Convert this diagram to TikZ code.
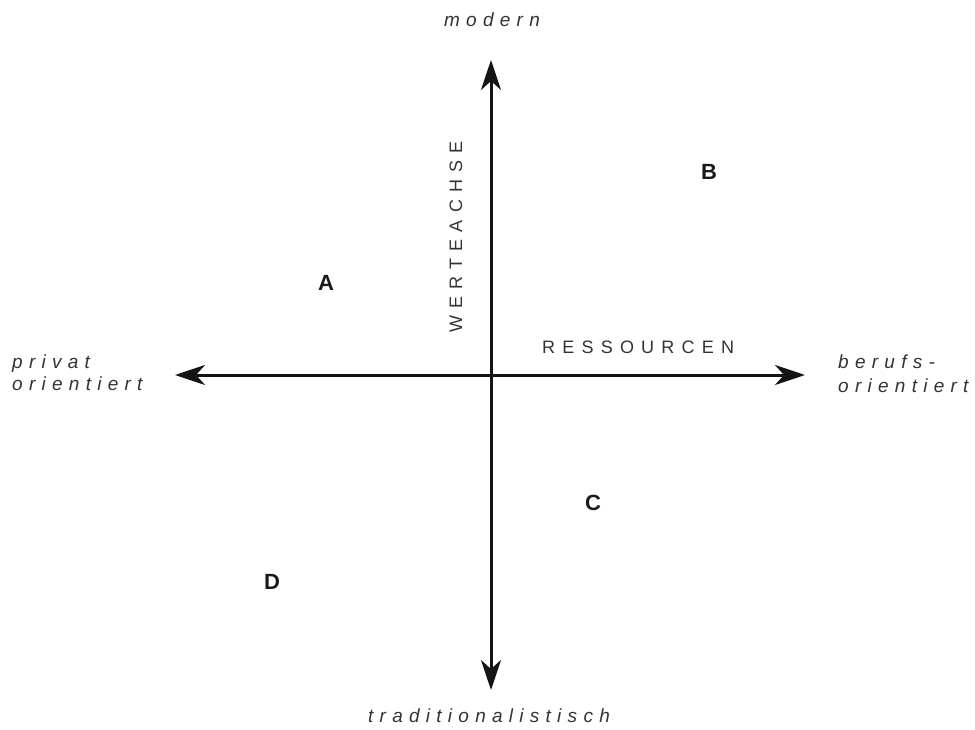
\documentclass[tikz,border=0pt]{standalone}
\usepackage{fontspec}
\setmainfont{Liberation Sans}
\newfontfamily\spacedit[LetterSpace=33]{Liberation Sans}
\newfontfamily\spacedcaps[LetterSpace=40]{Liberation Sans}
\usetikzlibrary{arrows.meta}
\tikzset{
  axisline/.style={line width=3pt, draw=black!92,
    {Stealth[length=30pt,width=20pt,inset=9pt]}-{Stealth[length=30pt,width=20pt,inset=9pt]}},
  pole/.style={text=black!80, font=\spacedit\itshape\fontsize{19}{23}\selectfont, inner sep=0pt},
  axlabel/.style={text=black!80, font=\spacedcaps\fontsize{18}{22}\selectfont, inner sep=0pt},
  quad/.style={text=black!90, font=\bfseries\fontsize{22}{26}\selectfont, inner sep=0pt}
}
\begin{document}
\begin{tikzpicture}[x=1pt,y=-1pt]
\useasboundingbox (0,0) rectangle (975,730);
\coordinate (top) at (491,60);
\coordinate (bottom) at (491,690);
\coordinate (left) at (175,375);
\coordinate (right) at (805,375);
\draw[axisline] (top) -- (bottom);
\draw[axisline] (left) -- (right);
\node[pole, anchor=base] (modern) at (492,27) {modern};
\node[pole, anchor=base] (trad) at (489,722) {traditionalistisch};
\node[pole, anchor=base west] (privat) at (12,368) {privat};
\node[pole, anchor=base west] (privat2) at (12,390) {orientiert};
\node[pole, anchor=base west] (beruf) at (838,368) {berufs-};
\node[pole, anchor=base west] (beruf2) at (838,392) {orientiert};
\node[axlabel, anchor=base west] (ress) at (542,353) {RESSOURCEN};
\node[axlabel, anchor=base west, rotate=90] (wert) at (462,333) {WERTEACHSE};
\node[quad] (A) at (326,283) {A};
\node[quad] (B) at (709,172) {B};
\node[quad] (C) at (593,503) {C};
\node[quad] (D) at (272,582) {D};
\end{tikzpicture}
\end{document}
